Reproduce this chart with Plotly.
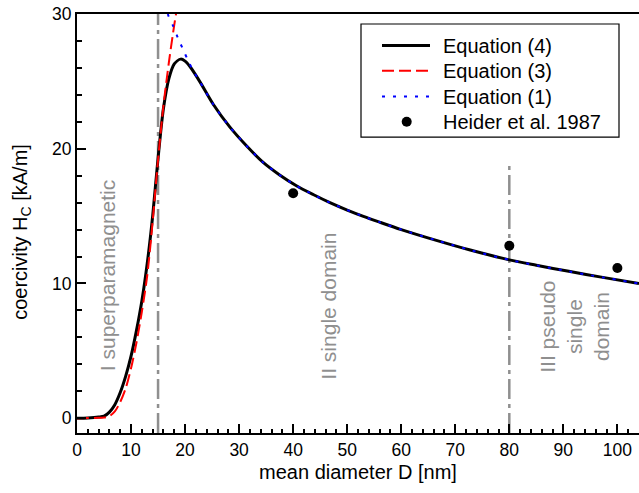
import plotly.graph_objects as go

# Equation (4) - black solid
eq4_D = [0, 2, 4, 5, 6, 7, 8, 9, 10, 11, 12, 13, 14, 15, 16, 17, 18, 19.2, 20.0, 20.9,
         22.7, 25.2, 28.3, 31.4, 34.4, 37.5, 40.6, 43.7, 46.8, 50, 53, 56, 60, 66.5,
         72.6, 80, 85, 91, 97.3, 104]
eq4_H = [0, 0.02, 0.08, 0.15, 0.45, 1.0, 1.9, 3.1, 4.6, 6.5, 8.7, 11.5, 15.0, 19.3, 23.0,
         25.2, 26.3, 26.65, 26.5, 26.1, 25.0, 23.3, 21.6, 20.2, 19.0, 18.05, 17.25, 16.6,
         16.0, 15.45, 14.98, 14.55, 14.0, 13.2, 12.5, 11.75, 11.35, 10.9, 10.45, 10.0]

# Equation (3) - red dashed
eq3_D = [0, 2, 4, 5, 6, 7, 8, 9, 10, 11, 12, 13, 14, 15, 16, 17, 18, 18.4, 19]
eq3_H = [0, 0.01, 0.03, 0.05, 0.15, 0.5, 1.2, 2.2, 3.7, 5.6, 7.9, 10.6, 14.6, 19.2, 23.2,
         26.4, 29.2, 30.2, 31.8]

# Equation (1) - blue dotted
eq1_D = [16.5, 16.8, 17.8, 18.7, 19.6, 20.6, 21.5, 22.7, 25.2, 28.3, 31.4, 34.4, 37.5,
         40.6, 43.7, 46.8, 50, 53, 56, 60, 66.5, 72.6, 80, 85, 91, 97.3, 104]
eq1_H = [30.8, 30.0, 29.1, 28.2, 27.4, 26.5, 25.8, 25.0, 23.3, 21.6, 20.2, 19.0, 18.05,
         17.25, 16.6, 16.0, 15.45, 14.98, 14.55, 14.0, 13.2, 12.5, 11.75, 11.35, 10.9,
         10.45, 10.0]

# Heider et al. 1987
heider_D = [40, 80, 100]
heider_H = [16.7, 12.8, 11.15]

series_names = ["Equation (4)", "Equation (3)", "Equation (1)", "Heider et al. 1987"]

regions = ["I superparamagnetic", "II single domain", "III pseudo<br>single<br>domain"]
region_x = [5.7, 46.5, 92.0]
region_y = [10.6, 8.3, 6.8]

boundaries = [15, 80]

FONT = "Liberation Sans, Arial, Helvetica, sans-serif"
GRAY = "#8f8f8f"
BLACK_STYLE = dict(color="black", width=3)
RED_STYLE = dict(color="#ff0000", width=2, dash="12px,5px")
BLUE_STYLE = dict(color="#0000ff", width=2, dash="3px,8px")

# figure geometry
W, H = 639, 493
ML, MR, MT, MB = 77, 0, 14, 60.3
PW, PH = W - ML - MR, H - MT - MB


def paper(vx, vy):
    """pixel -> paper coordinates (for legend layout only)"""
    return (vx - ML) / PW, 1 - (vy - MT) / PH


fig = go.Figure()
fig.add_trace(go.Scatter(x=eq4_D, y=eq4_H, mode="lines", name=series_names[0],
                         line=dict(**BLACK_STYLE, shape="spline", smoothing=0.8)))
fig.add_trace(go.Scatter(x=eq3_D, y=eq3_H, mode="lines", name=series_names[1],
                         line=dict(**RED_STYLE, shape="spline", smoothing=0.8)))
fig.add_trace(go.Scatter(x=eq1_D, y=eq1_H, mode="lines", name=series_names[2],
                         line=dict(**BLUE_STYLE, shape="spline", smoothing=0.8)))
fig.add_trace(go.Scatter(x=heider_D, y=heider_H, mode="markers", name=series_names[3],
                         marker=dict(color="black", size=10)))

# boundary lines
fig.add_shape(type="line", x0=boundaries[0], x1=boundaries[0], y0=0, y1=1,
              xref="x", yref="paper", layer="below",
              line=dict(color=GRAY, width=2.5, dash="20px,5px,4px,5px"))
fig.add_shape(type="line", x0=boundaries[1], x1=boundaries[1], y0=-1.1, y1=19.0,
              xref="x", yref="y", layer="below",
              line=dict(color=GRAY, width=2.5, dash="20px,5px,4px,5px"))

for t, x, y in zip(regions, region_x, region_y):
    fig.add_annotation(x=x, y=y, xref="x", yref="y", text=t, showarrow=False,
                       textangle=-90, font=dict(size=21, color=GRAY, family=FONT),
                       align="center", xanchor="center", yanchor="middle")

# y-axis title
yx, yy = paper(20.7, 232)
fig.add_annotation(x=yx, y=yy, xref="paper", yref="paper",
                   text="coercivity H<sub>C</sub> [kA/m]", showarrow=False,
                   textangle=-90, xanchor="center", yanchor="middle",
                   font=dict(size=20, color="black", family=FONT))

# legend box
bx0, by0 = paper(361, 24)
bx1, by1 = paper(619, 137)
fig.add_shape(type="rect", xref="paper", yref="paper", x0=bx0, x1=bx1, y0=by1, y1=by0,
              line=dict(color="black", width=1.2), fillcolor="white", layer="above")
rows = [45.5, 70.7, 96.5, 121.7]
styles = [BLACK_STYLE, RED_STYLE, BLUE_STYLE]
for i, st in enumerate(styles):
    lx0, ly = paper(382, rows[i])
    lx1, _ = paper(430, rows[i])
    fig.add_shape(type="line", xref="paper", yref="paper", x0=lx0, x1=lx1, y0=ly, y1=ly,
                  line=st, layer="above")
mx, my = paper(406.7, rows[3])
fig.add_shape(type="circle", xref="paper", yref="paper", xsizemode="pixel",
              ysizemode="pixel", xanchor=mx, yanchor=my, x0=-5, x1=5, y0=-5, y1=5,
              fillcolor="black", line=dict(color="black", width=0), layer="above")
for i, nm in enumerate(series_names):
    tx, ty = paper(441, rows[i])
    fig.add_annotation(x=tx, y=ty, xref="paper", yref="paper", text=nm, showarrow=False,
                       xanchor="left", yanchor="middle",
                       font=dict(size=20, color="black", family=FONT))

fig.update_layout(
    width=W, height=H,
    margin=dict(l=ML, r=MR, t=MT, b=MB, autoexpand=False),
    plot_bgcolor="white", paper_bgcolor="white",
    font=dict(family=FONT, size=17.5, color="black"),
    showlegend=False,
    hovermode=False,
)
fig.update_xaxes(range=[0, 104], showline=True, linecolor="black", linewidth=2,
                 mirror=True, ticks="inside", ticklen=9, tickwidth=1.5, tickcolor="black",
                 dtick=10, tick0=0, showgrid=False, zeroline=False, automargin=False,
                 minor=dict(ticks="inside", ticklen=4.5, tickwidth=1.5, dtick=2,
                            tickcolor="black", showgrid=False),
                 title=dict(text="mean diameter D [nm]", font=dict(size=20, family=FONT),
                            standoff=6))
fig.update_yaxes(range=[-1.1, 30], showline=True, linecolor="black", linewidth=2,
                 mirror=False, ticks="inside", ticklen=9, tickwidth=1.5, tickcolor="black",
                 dtick=10, tick0=0, showgrid=False, zeroline=False, automargin=False,
                 minor=dict(ticks="inside", ticklen=4.5, tickwidth=1.5, dtick=2,
                            tickcolor="black", showgrid=False))

fig.write_html("out.html", config={"displayModeBar": False},
               post_script="document.body.style.margin='0';"
                           "document.body.style.overflow='hidden';")
